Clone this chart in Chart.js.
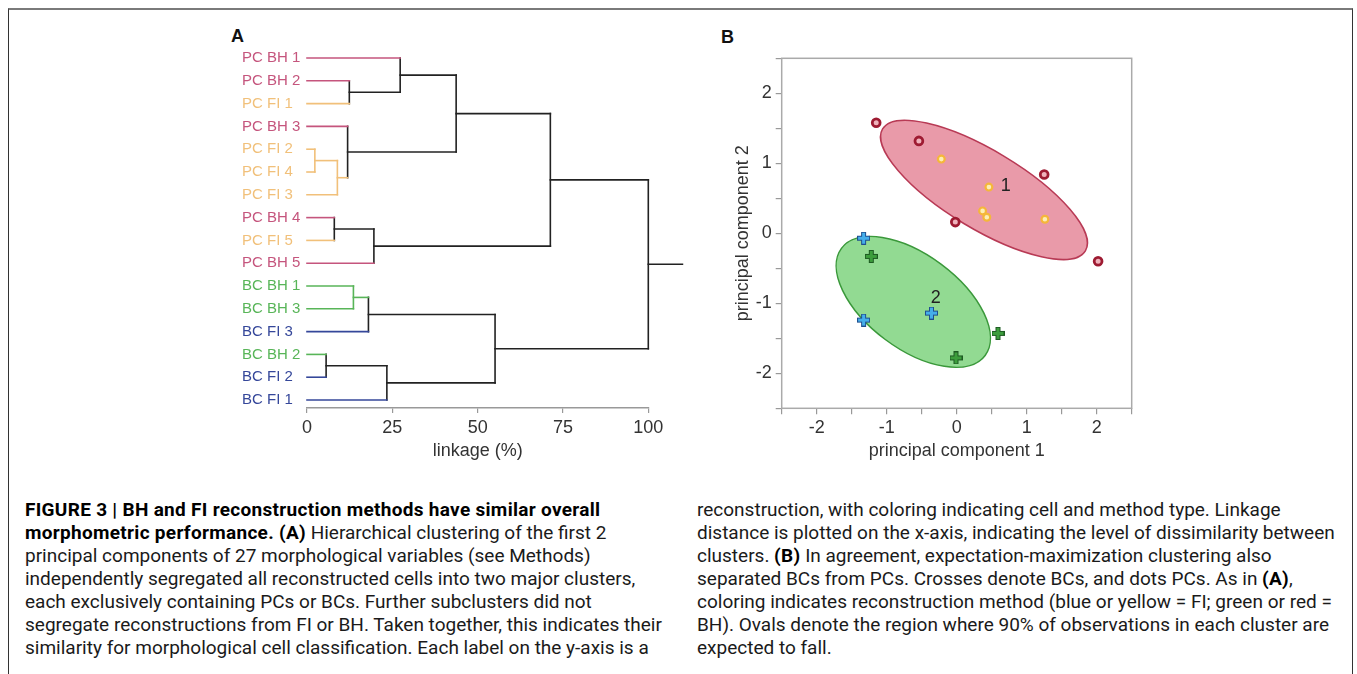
<!DOCTYPE html>
<html>
<head>
<meta charset="utf-8">
<title>Figure 3</title>
<script src="https://cdn.jsdelivr.net/npm/chart.js@4.4.1/dist/chart.umd.min.js"></script>
<style>
  html, body { margin: 0; padding: 0; background: #fff; }
  body { width: 1357px; height: 674px; position: relative; overflow: hidden; font-family: "Liberation Sans", Arial, sans-serif; }
  .frame { position: absolute; left: 8px; top: 8px; width: 1343px; height: 700px;
           border-top: 2px solid #7a7a7a; border-left: 1.5px solid #333; border-right: 1.5px solid #333; }
  .panel-label { position: absolute; font-weight: bold; font-size: 18px; line-height: 20px; color: #111; }
  canvas { position: absolute; }
  .caption { position: absolute; top: 498px; font-family: Roboto, sans-serif;
             font-size: 19px; line-height: 23px; color: #1a1a1a; white-space: nowrap; }
  .caption b { color: #000; letter-spacing: 0.3px; }
</style>
</head>
<body>
<div class="frame"></div>
<div class="panel-label" style="left:231px; top:26px;">A</div>
<div class="panel-label" style="left:721px; top:27px;">B</div>
<canvas id="dendro" width="460" height="450" style="left:240px; top:20px;"></canvas>
<canvas id="scatter" width="430" height="460" style="left:725px; top:20px;"></canvas>

<div class="caption" style="left:25px;">
<b>FIGURE 3 | BH and FI reconstruction methods have similar overall</b><br>
<b>morphometric performance. (A)</b> Hierarchical clustering of the first 2<br>
principal components of 27 morphological variables (see Methods)<br>
independently segregated all reconstructed cells into two major clusters,<br>
each exclusively containing PCs or BCs. Further subclusters did not<br>
segregate reconstructions from FI or BH. Taken together, this indicates their<br>
similarity for morphological cell classification. Each label on the y-axis is a
</div>
<div class="caption" style="left:697px;">
reconstruction, with coloring indicating cell and method type. Linkage<br>
distance is plotted on the x-axis, indicating the level of dissimilarity between<br>
clusters. <b>(B)</b> In agreement, expectation-maximization clustering also<br>
separated BCs from PCs. Crosses denote BCs, and dots PCs. As in <b>(A)</b>,<br>
coloring indicates reconstruction method (blue or yellow = FI; green or red =<br>
BH). Ovals denote the region where 90% of observations in each cluster are<br>
expected to fall.
</div>

<script>
// ---- panel A: dendrogram data ----
const leafLabels = ["PC BH 1", "PC BH 2", "PC FI 1", "PC BH 3", "PC FI 2", "PC FI 4", "PC FI 3", "PC BH 4",
                    "PC FI 5", "PC BH 5", "BC BH 1", "BC BH 3", "BC FI 3", "BC BH 2", "BC FI 2", "BC FI 1"];
const leafGroups = ["pcbh", "pcbh", "pcfi", "pcbh", "pcfi", "pcfi", "pcfi", "pcbh",
                    "pcfi", "pcbh", "bcbh", "bcbh", "bcfi", "bcbh", "bcfi", "bcfi"];
// merges: node ids 0-15 are leaves, merge k creates node 16 + k
const mergePairs = [[4, 5], [16, 6], [3, 17], [1, 2], [0, 19], [20, 18], [7, 8], [22, 9],
                    [21, 23], [10, 11], [25, 12], [13, 14], [27, 15], [26, 28], [24, 29]];
const mergeHeights = [2.3, 8.9, 11.9, 12.4, 27.3, 43.7, 8.0, 19.6, 71.3, 13.6, 18.0, 5.6, 23.4, 55.1, 100];
const rootTail = 110;
const linkageTicks = [0, 25, 50, 75, 100];

const groupColors = { pcbh: "#c5557d", pcfi: "#f1c07a", bcbh: "#58b558", bcfi: "#35479a" };
const linkColor = "#222";

// ---- panel B: scatter data ----
const pcBH = [{ x: -1.15, y: 1.58 }, { x: -0.54, y: 1.32 }, { x: 1.25, y: 0.84 }, { x: -0.02, y: 0.16 }, { x: 2.02, y: -0.40 }];
const pcFI = [{ x: -0.22, y: 1.06 }, { x: 0.46, y: 0.66 }, { x: 0.37, y: 0.32 }, { x: 0.43, y: 0.23 }, { x: 1.26, y: 0.20 }];
const bcBH = [{ x: -1.22, y: -0.33 }, { x: 0.59, y: -1.43 }, { x: -0.01, y: -1.78 }];
const bcFI = [{ x: -1.33, y: -0.07 }, { x: -1.33, y: -1.24 }, { x: -0.36, y: -1.14 }];
// 90% ovals: centre, half axes, tilt (degrees, clockwise on screen)
const ovalCenters = [{ x: 0.39, y: 0.62 }, { x: -0.62, y: -0.98 }];
const ovalAxes = [[1.69, 0.56], [1.28, 0.67]];
const ovalTilt = [31, 36.7];
const ovalFill = ["rgba(226, 120, 140, 0.75)", "rgba(110, 205, 110, 0.75)"];
const ovalStroke = ["#b83a55", "#3a983a"];
const clusterNames = ["1", "2"];
const clusterLabelPos = [{ x: 0.70, y: 0.68 }, { x: -0.30, y: -0.93 }];

const tickFont = { family: "'Liberation Sans', Arial, sans-serif", size: 18 };
const textColor = "#333";

// build dendrogram segments from the merge list
const nodeY = leafLabels.map((_, i) => i);
const nodeH = leafLabels.map(() => 0);
const nodeColor = leafGroups.map(g => groupColors[g]);
const segments = [];
mergePairs.forEach(([a, b], k) => {
  const h = mergeHeights[k];
  const id = leafLabels.length + k;
  const same = nodeColor[a] === nodeColor[b];
  segments.push({ color: nodeColor[a], pts: [{ x: nodeH[a], y: nodeY[a] }, { x: h, y: nodeY[a] }] });
  segments.push({ color: nodeColor[b], pts: [{ x: nodeH[b], y: nodeY[b] }, { x: h, y: nodeY[b] }] });
  segments.push({ color: same ? nodeColor[a] : linkColor, pts: [{ x: h, y: nodeY[a] }, { x: h, y: nodeY[b] }] });
  nodeY[id] = (nodeY[a] + nodeY[b]) / 2;
  nodeH[id] = h;
  nodeColor[id] = same ? nodeColor[a] : linkColor;
});
const rootId = nodeY.length - 1;
segments.push({ color: linkColor, pts: [{ x: nodeH[rootId], y: nodeY[rootId] }, { x: rootTail, y: nodeY[rootId] }] });

new Chart(document.getElementById("dendro"), {
  type: "scatter",
  data: {
    datasets: segments.map(s => ({
      data: s.pts,
      showLine: true,
      borderColor: s.color,
      borderWidth: 1.6,
      borderCapStyle: "square",
      pointRadius: 0,
      fill: false,
      clip: false
    }))
  },
  options: {
    responsive: false,
    animation: false,
    layout: { padding: { left: 2, top: 26.6, right: 51.7, bottom: 6 } },
    plugins: { legend: { display: false }, tooltip: { enabled: false } },
    scales: {
      x: {
        type: "linear",
        min: linkageTicks[0],
        max: linkageTicks[linkageTicks.length - 1],
        afterBuildTicks: s => { s.ticks = linkageTicks.map(v => ({ value: v })); },
        ticks: { color: textColor, font: tickFont, padding: 4, maxRotation: 0 },
        grid: { drawOnChartArea: false, tickLength: 5, color: "#999", lineWidth: 1.2 },
        border: { display: true, color: "#999", width: 1.5 },
        title: { display: true, text: "linkage (%)", color: textColor, font: tickFont, padding: { top: 0, bottom: 2 } },
        afterFit: s => { s.height = 56; }
      },
      y: {
        type: "linear",
        reverse: true,
        min: -0.5,
        max: 15.35,
        afterBuildTicks: s => { s.ticks = leafLabels.map((_, i) => ({ value: i })); },
        ticks: {
          callback: v => leafLabels[v],
          color: ctx => groupColors[leafGroups[ctx.tick.value]],
          font: { family: "'Liberation Sans', Arial, sans-serif", size: 15 },
          crossAlign: "far",
          autoSkip: false
        },
        grid: { display: false },
        border: { display: false },
        afterFit: s => { s.width = 65; }
      }
    }
  }
});

// ---- panel B ----
function crossImage(fill, outline) {
  const c = document.createElement("canvas");
  c.width = 13; c.height = 13;
  const g = c.getContext("2d");
  g.fillStyle = outline;
  g.fillRect(4, 0, 5, 13);
  g.fillRect(0, 4, 13, 5);
  g.fillStyle = fill;
  g.fillRect(5, 1, 3, 11);
  g.fillRect(1, 5, 11, 3);
  return c;
}

const ovals = {
  id: "ovals",
  beforeDatasetsDraw(chart) {
    const { ctx, scales: { x, y } } = chart;
    const ux = Math.abs(x.getPixelForValue(1) - x.getPixelForValue(0));
    const uy = Math.abs(y.getPixelForValue(1) - y.getPixelForValue(0));
    ctx.save();
    ovalCenters.forEach((c, i) => {
      ctx.beginPath();
      ctx.ellipse(x.getPixelForValue(c.x), y.getPixelForValue(c.y),
                  ovalAxes[i][0] * ux, ovalAxes[i][1] * uy, ovalTilt[i] * Math.PI / 180, 0, Math.PI * 2);
      ctx.fillStyle = ovalFill[i];
      ctx.fill();
      ctx.lineWidth = 1.5;
      ctx.strokeStyle = ovalStroke[i];
      ctx.stroke();
    });
    ctx.fillStyle = "#222";
    ctx.font = "18px 'Liberation Sans', Arial, sans-serif";
    ctx.textAlign = "center";
    ctx.textBaseline = "middle";
    clusterLabelPos.forEach((p, i) => {
      ctx.fillText(clusterNames[i], x.getPixelForValue(p.x), y.getPixelForValue(p.y));
    });
    ctx.restore();
  },
  afterDraw(chart) {
    const { ctx, chartArea: a } = chart;
    ctx.save();
    ctx.strokeStyle = "#aaa";
    ctx.lineWidth = 1.5;
    ctx.strokeRect(a.left, a.top, a.right - a.left, a.bottom - a.top);
    ctx.restore();
  }
};

const pcTicks = { min: -2.5, max: 2.5, stepSize: 0.5 };
const intLabel = v => (Number.isInteger(v) ? v : "");

new Chart(document.getElementById("scatter"), {
  type: "scatter",
  data: {
    datasets: [
      { label: "PC BH", data: pcBH, pointStyle: "circle", pointRadius: 3.9, borderWidth: 2.8,
        borderColor: "#9e1b32", backgroundColor: "#efb2bb" },
      { label: "PC FI", data: pcFI, pointStyle: "circle", pointRadius: 3.4, borderWidth: 2.2,
        borderColor: "#f5b73a", backgroundColor: "#fdeeb5" },
      { label: "BC BH", data: bcBH, pointStyle: crossImage("#3c9d3c", "#1d5a22") },
      { label: "BC FI", data: bcFI, pointStyle: crossImage("#45aeea", "#1f4f8f") }
    ]
  },
  options: {
    responsive: false,
    animation: false,
    layout: { padding: { left: 0, top: 38.3, right: 23.3, bottom: 15.7 } },
    plugins: { legend: { display: false }, tooltip: { enabled: false } },
    scales: {
      x: {
        type: "linear",
        min: pcTicks.min, max: pcTicks.max,
        ticks: { stepSize: pcTicks.stepSize, callback: intLabel, color: textColor, font: tickFont,
                 padding: 3, autoSkip: false, maxRotation: 0 },
        grid: { drawOnChartArea: false, tickLength: 6, color: "#999", lineWidth: 1.2 },
        border: { display: false },
        title: { display: true, text: "principal component 1", color: textColor, font: tickFont, padding: { top: 0, bottom: 2 } },
        afterFit: s => { s.height = 56; }
      },
      y: {
        type: "linear",
        min: pcTicks.min, max: pcTicks.max,
        ticks: { stepSize: pcTicks.stepSize, callback: intLabel, color: textColor, font: tickFont,
                 padding: 4, autoSkip: false },
        grid: { drawOnChartArea: false, tickLength: 6, color: "#999", lineWidth: 1.2 },
        border: { display: false },
        title: { display: true, text: "principal component 2", color: textColor, font: tickFont, padding: { top: 7, bottom: 0 } },
        afterFit: s => { s.width = 56.7; }
      }
    }
  },
  plugins: [ovals]
});
</script>
</body>
</html>
